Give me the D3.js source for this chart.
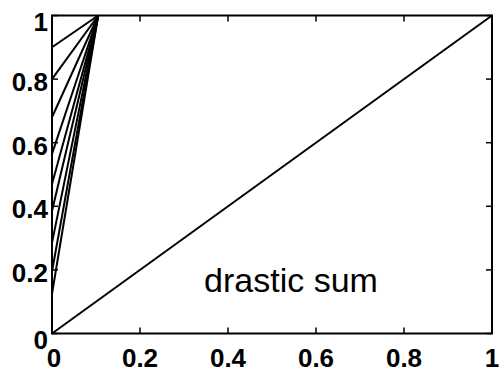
<!DOCTYPE html>
<html><head><meta charset="utf-8">
<script src="https://cdn.jsdelivr.net/npm/d3@7"></script>
<style>body{margin:0;background:#fff}</style></head>
<body><svg id="c" width="501" height="374"></svg>
<script>
const ticks = [0, 0.2, 0.4, 0.6, 0.8, 1];
const tickLabels = ["0", "0.2", "0.4", "0.6", "0.8", "1"];
// fan lines: start value at x=0, end at (apexX, 1)
const fanStarts = [0.9, 0.8, 0.68, 0.565, 0.47, 0.385, 0.285, 0.195, 0.125];
const apexX = 0.105;
const diagonal = [[0, 0], [1, 1]];
const label = "drastic sum";

const svg = d3.select("#c");
const x = d3.scaleLinear().domain([0, 1]).range([52, 492]);
const y = d3.scaleLinear().domain([0, 1]).range([333.5, 15.5]);
const line = d3.line().x(d => x(d[0])).y(d => y(d[1]));

svg.append("rect").attr("x", x(0)).attr("y", y(1))
  .attr("width", x(1) - x(0)).attr("height", y(0) - y(1))
  .attr("fill", "none").attr("stroke", "#000").attr("stroke-width", 2);

const tl = 6;
ticks.forEach(t => {
  svg.append("line").attr("x1", x(t)).attr("x2", x(t)).attr("y1", y(0)).attr("y2", y(0) - tl).attr("stroke", "#000").attr("stroke-width", 1.5);
  svg.append("line").attr("x1", x(t)).attr("x2", x(t)).attr("y1", y(1)).attr("y2", y(1) + tl).attr("stroke", "#000").attr("stroke-width", 1.5);
  svg.append("line").attr("y1", y(t)).attr("y2", y(t)).attr("x1", x(0)).attr("x2", x(0) + tl).attr("stroke", "#000").attr("stroke-width", 1.5);
  svg.append("line").attr("y1", y(t)).attr("y2", y(t)).attr("x1", x(1)).attr("x2", x(1) - tl).attr("stroke", "#000").attr("stroke-width", 1.5);
});

const font = "'Liberation Sans', Arial, Helvetica, sans-serif";
ticks.forEach((t, i) => {
  svg.append("text").attr("x", x(t) + (t === 0 ? 2 : 0)).attr("y", 367).attr("text-anchor", "middle")
    .attr("font-family", font).attr("font-weight", "bold").attr("font-size", 26)
    .text(tickLabels[i]);
  svg.append("text").attr("x", 48).attr("y", y(t) + (t === 0 || t === 1 ? 15 : 12)).attr("text-anchor", "end")
    .attr("font-family", font).attr("font-weight", "bold").attr("font-size", 26)
    .text(tickLabels[i]);
});

svg.append("path").attr("d", line(diagonal)).attr("fill", "none").attr("stroke", "#000").attr("stroke-width", 2);
fanStarts.forEach(s => {
  svg.append("path").attr("d", line([[0, s], [apexX, 1]])).attr("fill", "none").attr("stroke", "#000").attr("stroke-width", 2);
});

svg.append("text").attr("x", 291).attr("y", 292).attr("text-anchor", "middle")
  .attr("font-family", font).attr("font-size", 34).text(label);
</script></body></html>
